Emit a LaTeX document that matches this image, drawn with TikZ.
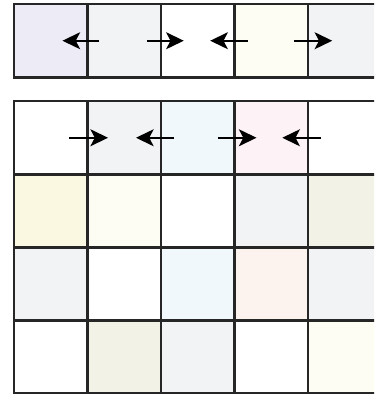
\documentclass[tikz,border=0pt]{standalone}
\usetikzlibrary{arrows.meta}

\definecolor{lav}{HTML}{EDEBF6}
\definecolor{gry}{HTML}{F2F3F5}
\definecolor{ivo}{HTML}{FDFDF3}
\definecolor{ylw}{HTML}{FAF8E1}
\definecolor{bge}{HTML}{F2F2E7}
\definecolor{cyn}{HTML}{F0F8FB}
\definecolor{pnk}{HTML}{FDF2F6}
\definecolor{pch}{HTML}{FCF3EE}

\tikzset{
  grid/.style={line width=1.1pt, black!85},
  flux/.style={line width=0.8pt, -{Stealth[length=2.4mm,width=2.3mm,inset=0.6mm]}},
}

\begin{document}
\begin{tikzpicture}
\useasboundingbox (-0.19,0.054) rectangle (4.898,-5.306);
\clip (-0.19,0.054) rectangle (4.898,-5.306);

% single row on top
\foreach \c [count=\i from 0] in {lav,gry,white,ivo,gry}
  \fill[\c] (\i,0) rectangle (\i+1,-1);
\draw[grid] (0,0) rectangle (5,-1);
\foreach \i in {1,...,4}
  \draw[grid] (\i,0)--(\i,-1);

\draw[flux] (1.16,-0.5)--(0.66,-0.5);
\draw[flux] (1.81,-0.5)--(2.31,-0.5);
\draw[flux] (3.18,-0.5)--(2.67,-0.5);
\draw[flux] (3.81,-0.5)--(4.33,-0.5);

% the block below
\foreach \row [count=\j from 0] in {
    {white,gry,cyn,pnk,white},
    {ylw,ivo,white,gry,bge},
    {gry,white,cyn,pch,gry},
    {white,bge,gry,white,ivo}}
  \foreach \c [count=\i from 0] in \row
    \fill[\c] (\i,-1.32-\j*0.995) rectangle (\i+1,-2.315-\j*0.995);
\draw[grid] (0,-1.32) rectangle (5,-5.30);
\foreach \i in {1,...,4}
  \draw[grid] (\i,-1.32)--(\i,-5.30);
\foreach \j in {2.315,3.31,4.305}
  \draw[grid] (0,-\j)--(5,-\j);

\draw[flux] (0.75,-1.82)--(1.28,-1.82);
\draw[flux] (2.18,-1.82)--(1.66,-1.82);
\draw[flux] (2.77,-1.82)--(3.30,-1.82);
\draw[flux] (4.18,-1.82)--(3.65,-1.82);
\end{tikzpicture}
\end{document}
